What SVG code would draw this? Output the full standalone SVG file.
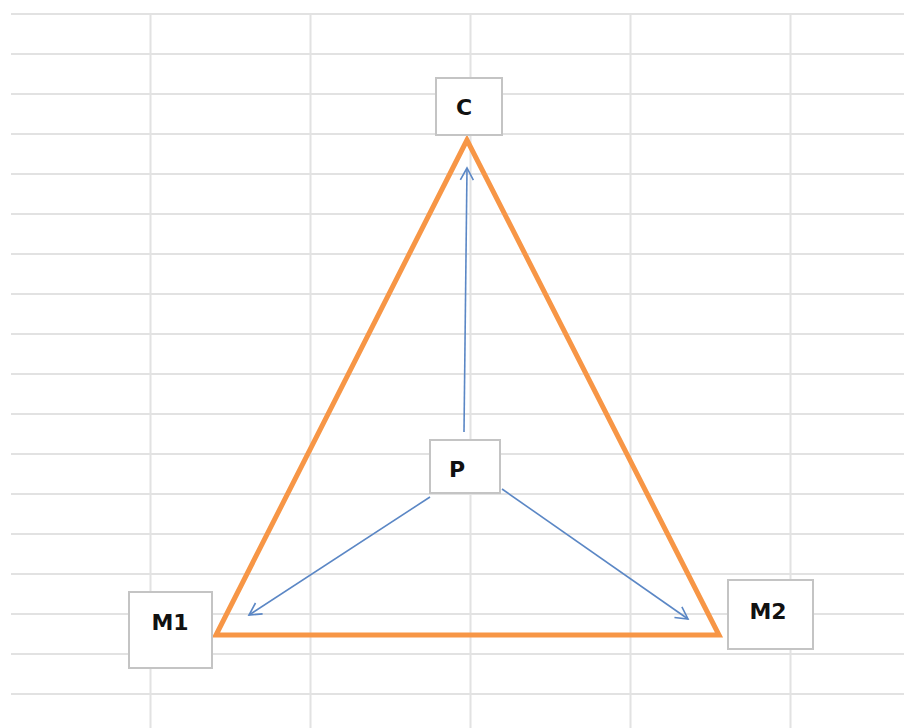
<svg xmlns="http://www.w3.org/2000/svg" width="904" height="728" viewBox="0 0 904 728">
  <style>
    .grid line { stroke: #e2e2e2; stroke-width: 2; }
    .box { fill: #ffffff; stroke: #c4c4c4; stroke-width: 2; }
    .lbl { font-family: "DejaVu Sans", "Liberation Sans", sans-serif; font-weight: bold; font-size: 22px; fill: #111111; text-anchor: middle; }
    .conn { stroke: #5b87c5; stroke-width: 1.6; fill: none; marker-end: url(#open); }
  </style>
  <defs>
    <marker id="open" markerUnits="userSpaceOnUse" markerWidth="16" markerHeight="16" refX="13" refY="7" orient="auto" viewBox="0 0 16 14">
      <path d="M1,0.5 L13,7 L1,13.5" fill="none" stroke="#5b87c5" stroke-width="1.6"/>
    </marker>
  </defs>
  <rect width="904" height="728" fill="#ffffff"/>
  <g class="grid" id="grid">
    <line x1="11" y1="14" x2="904" y2="14"/>
    <line x1="11" y1="54" x2="904" y2="54"/>
    <line x1="11" y1="94" x2="904" y2="94"/>
    <line x1="11" y1="134" x2="904" y2="134"/>
    <line x1="11" y1="174" x2="904" y2="174"/>
    <line x1="11" y1="214" x2="904" y2="214"/>
    <line x1="11" y1="254" x2="904" y2="254"/>
    <line x1="11" y1="294" x2="904" y2="294"/>
    <line x1="11" y1="334" x2="904" y2="334"/>
    <line x1="11" y1="374" x2="904" y2="374"/>
    <line x1="11" y1="414" x2="904" y2="414"/>
    <line x1="11" y1="454" x2="904" y2="454"/>
    <line x1="11" y1="494" x2="904" y2="494"/>
    <line x1="11" y1="534" x2="904" y2="534"/>
    <line x1="11" y1="574" x2="904" y2="574"/>
    <line x1="11" y1="614" x2="904" y2="614"/>
    <line x1="11" y1="654" x2="904" y2="654"/>
    <line x1="11" y1="694" x2="904" y2="694"/>
    <line x1="150.5" y1="14" x2="150.5" y2="728"/>
    <line x1="310.5" y1="14" x2="310.5" y2="728"/>
    <line x1="470.5" y1="14" x2="470.5" y2="728"/>
    <line x1="630.5" y1="14" x2="630.5" y2="728"/>
    <line x1="790.5" y1="14" x2="790.5" y2="728"/>
  </g>
  <g id="triangle">
    <polygon points="467,140 216,635 719,635" fill="none" stroke="#f79646" stroke-width="5" stroke-linejoin="miter"/>
  </g>
  <g id="connectors">
    <line class="conn" x1="464" y1="432" x2="467" y2="168"/>
    <line class="conn" x1="430" y1="497" x2="249" y2="615"/>
    <line class="conn" x1="502" y1="489" x2="688" y2="619"/>
  </g>
  <g id="node-C">
    <rect class="box" x="436" y="78" width="66" height="57"/>
    <text class="lbl" x="464" y="115">C</text>
  </g>
  <g id="node-P">
    <rect class="box" x="430" y="440" width="70" height="53"/>
    <text class="lbl" x="457" y="477">P</text>
  </g>
  <g id="node-M1">
    <rect class="box" x="129" y="592" width="83" height="76"/>
    <text class="lbl" x="170" y="630">M1</text>
  </g>
  <g id="node-M2">
    <rect class="box" x="728" y="580" width="85" height="69"/>
    <text class="lbl" x="768" y="619">M2</text>
  </g>
</svg>
